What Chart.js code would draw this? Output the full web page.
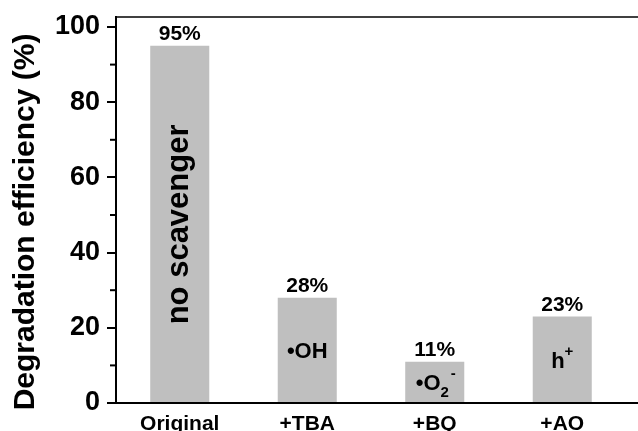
<!DOCTYPE html>
<html lang="en">
<head>
  <meta charset="UTF-8">
  <title>Degradation efficiency</title>
  <script src="https://cdn.jsdelivr.net/npm/chart.js"></script>
  <style>
    body { margin: 0; background: #fff; }
    #wrap { width: 638px; height: 431px; }
  </style>
</head>
<body>
  <div id="wrap"><canvas id="degChart" width="638" height="431"></canvas></div>

  <script>
    // data
    const categories = ['Original', '+TBA', '+BQ', '+AO'];
    const efficiency = [95, 28, 11, 23];
    const yTicks = [0, 20, 40, 60, 80, 100];
    const yMinorTicks = [10, 30, 50, 70, 90];
    // text written inside each bar: [text, kind]
    const innerLabels = [
      [['no scavenger', 'rot']],
      [['\u2022OH', '']],
      [['\u2022O', ''], ['2', 'sub'], ['-', 'sup']],
      [['h', ''], ['+', 'sup']]
    ];

    const FONT = '"Liberation Sans", Arial, sans-serif';

    const extras = {
      id: 'extras',
      afterDraw(chart) {
        const ctx = chart.ctx;
        const x = chart.scales.x, y = chart.scales.y;
        const area = chart.chartArea;
        ctx.save();
        ctx.strokeStyle = '#000';
        ctx.fillStyle = '#000';

        // minor ticks
        ctx.lineWidth = 2;
        yMinorTicks.forEach(v => {
          const py = y.getPixelForValue(v);
          ctx.beginPath();
          ctx.moveTo(area.left - 6, py);
          ctx.lineTo(area.left, py);
          ctx.stroke();
        });

        // top frame line and bottom axis running to the edge
        ctx.lineWidth = 1.5;
        ctx.beginPath();
        ctx.moveTo(area.left, area.top);
        ctx.lineTo(chart.width, area.top);
        ctx.stroke();
        ctx.lineWidth = 2;
        ctx.beginPath();
        ctx.moveTo(area.right, area.bottom);
        ctx.lineTo(chart.width, area.bottom);
        ctx.stroke();

        // y axis title
        ctx.save();
        ctx.translate(34, 222);
        ctx.rotate(-Math.PI / 2);
        ctx.font = 'bold 30px ' + FONT;
        ctx.textAlign = 'center';
        ctx.textBaseline = 'alphabetic';
        ctx.fillText('Degradation efficiency (%)', 0, 0);
        ctx.restore();

        // value labels above the bars
        ctx.font = 'bold 21px ' + FONT;
        ctx.textAlign = 'center';
        ctx.textBaseline = 'alphabetic';
        efficiency.forEach((v, i) => {
          ctx.fillText(v + '%', x.getPixelForValue(i), y.getPixelForValue(v) - 6);
        });

        // labels inside the bars
        innerLabels.forEach((parts, i) => {
          const cx = x.getPixelForValue(i);
          const cy = y.getPixelForValue(efficiency[i] / 2);
          if (parts[0][1] === 'rot') {
            ctx.save();
            ctx.translate(cx, cy);
            ctx.rotate(-Math.PI / 2);
            ctx.font = 'bold 31px ' + FONT;
            ctx.textAlign = 'center';
            ctx.textBaseline = 'middle';
            ctx.fillText(parts[0][0], 0, 0);
            ctx.restore();
            return;
          }
          const fonts = parts.map(p => (p[1] ? 'bold 15px ' : 'bold 22px ') + FONT);
          const widths = parts.map((p, k) => { ctx.font = fonts[k]; return ctx.measureText(p[0]).width; });
          let px = cx - widths.reduce((a, b) => a + b, 0) / 2;
          const base = cy + 8;
          ctx.textAlign = 'left';
          parts.forEach((p, k) => {
            ctx.font = fonts[k];
            let by = base;
            if (p[1] === 'sub') by = base + 7;
            if (p[1] === 'sup') by = base - 12;
            ctx.fillText(p[0], px, by);
            px += widths[k] + (p[1] === 'sub' ? 2 : 0);
          });
        });

        ctx.restore();
      }
    };

    new Chart(document.getElementById('degChart'), {
      type: 'bar',
      data: {
        labels: categories,
        datasets: [{
          data: efficiency,
          backgroundColor: '#bfbfbf',
          borderWidth: 0,
          categoryPercentage: 1,
          barPercentage: 0.463
        }]
      },
      options: {
        responsive: false,
        animation: false,
        layout: { padding: { top: 17, right: 12, left: 0, bottom: 0 } },
        plugins: { legend: { display: false }, tooltip: { enabled: false } },
        scales: {
          x: {
            grid: { display: true, drawOnChartArea: false, drawTicks: false },
            border: { display: true, color: '#000', width: 2 },
            ticks: {
              color: '#000',
              padding: 9,
              font: { family: FONT, size: 21, weight: 'bold' },
              maxRotation: 0
            },
            afterFit(s) { s.height = 28; s.paddingLeft = 0; s.paddingRight = 0; }
          },
          y: {
            min: 0,
            max: 102.66,
            afterBuildTicks(s) { s.ticks = yTicks.map(v => ({ value: v })); },
            grid: { display: true, drawOnChartArea: false, drawTicks: true, tickLength: 9, color: '#000', lineWidth: 2 },
            border: { display: true, color: '#000', width: 2 },
            ticks: {
              color: '#000',
              padding: 7,
              font: { family: FONT, size: 27, weight: 'bold' }
            },
            afterFit(s) { s.width = 116; s.paddingTop = 0; s.paddingBottom = 0; }
          }
        }
      },
      plugins: [extras]
    });
  </script>
</body>
</html>
